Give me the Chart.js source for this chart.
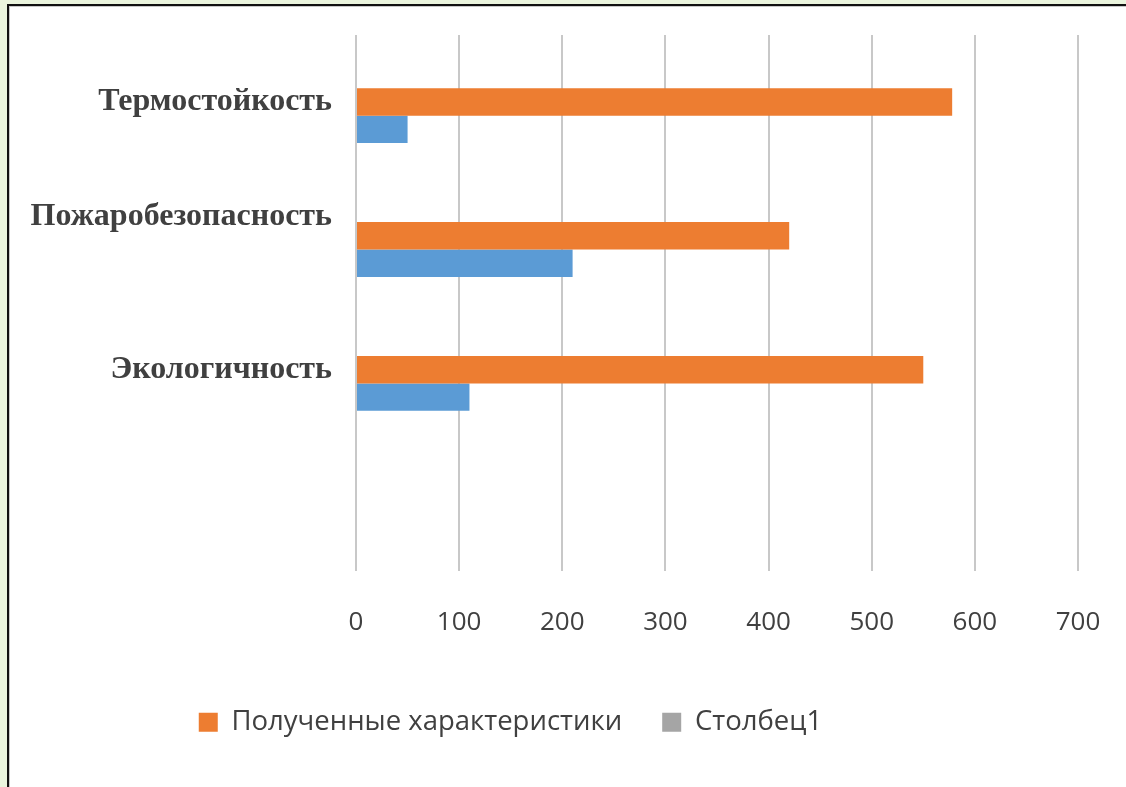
<!DOCTYPE html>
<html>
<head>
<meta charset="utf-8">
<script src="https://cdn.jsdelivr.net/npm/chart.js@4"></script>
<style>
  html, body { margin: 0; padding: 0; background: #ebf5de; width: 1126px; height: 787px; overflow: hidden; }
  #frame {
    position: absolute; left: 7px; top: 4px; right: 0; bottom: 0;
    background: #fff;
    border-left: 2px solid #111; border-top: 2px solid #111;
    box-shadow: inset 1px 1px 0 #c8c8c8;
  }
</style>
</head>
<body>
<div id="frame"><canvas id="chart"></canvas></div>
<script>
// second label sits a bit higher in the original, hence the empty second line
const categories = ['Термостойкость', ['Пожаробезопасность', ''], 'Экологичность', ''];
const obtained = [578, 420, 550, null];
const baseline = [50, 210, 110, null];
const column1 = [null, null, null, null];
const xTicks = [0, 100, 200, 300, 400, 500, 600, 700];

const textColor = '#404040';

// moves the legend a bit to the left, like in the original
const legendShift = {
    id: 'legendShift',
    afterLayout(chart) {
        chart.legend.left -= 33;
        chart.legend.right -= 33;
    }
};

const config = {
    type: 'bar',
    data: {
        labels: categories,
        datasets: [
            { label: 'Столбец1', data: column1, backgroundColor: '#a5a5a5' },
            { label: 'Полученные характеристики', data: obtained, backgroundColor: '#ed7d31' },
            { label: 'Ряд1', data: baseline, backgroundColor: '#5b9bd5' }
        ]
    },
    options: {
        indexAxis: 'y',
        responsive: true,
        maintainAspectRatio: false,
        animation: false,
        categoryPercentage: 0.614,
        barPercentage: 1,
        layout: { padding: { top: 29, right: 48, bottom: 41, left: 0 } },
        scales: {
            x: {
                min: 0,
                max: 700,
                afterBuildTicks: scale => { scale.ticks = xTicks.map(v => ({ value: v })); },
                afterFit: scale => {
                    scale.height = 98;
                    scale.paddingLeft = 0;
                    scale.paddingRight = 0;
                },
                grid: { color: '#c8c8c8', lineWidth: 2, drawTicks: false },
                border: { display: false },
                ticks: {
                    padding: 36,
                    color: textColor,
                    font: { family: 'Open Sans', size: 26 }
                }
            },
            y: {
                afterFit: scale => {
                    scale.width = 347;
                    scale.paddingTop = 0;
                    scale.paddingBottom = 0;
                },
                grid: { display: false },
                border: { display: false },
                ticks: {
                    padding: 16,
                    color: textColor,
                    font: { family: 'Liberation Serif', size: 32, weight: 'bold' }
                }
            }
        },
        plugins: {
            tooltip: { enabled: false },
            legend: {
                position: 'bottom',
                labels: {
                    boxWidth: 19,
                    boxHeight: 19,
                    padding: 40,
                    color: textColor,
                    font: { family: 'Open Sans', size: 27.5 },
                    filter: item => item.text !== 'Ряд1',
                    sort: (a, b) => b.datasetIndex - a.datasetIndex
                }
            }
        }
    },
    plugins: [legendShift]
};

new Chart(document.getElementById('chart'), config);
</script>
</body>
</html>
